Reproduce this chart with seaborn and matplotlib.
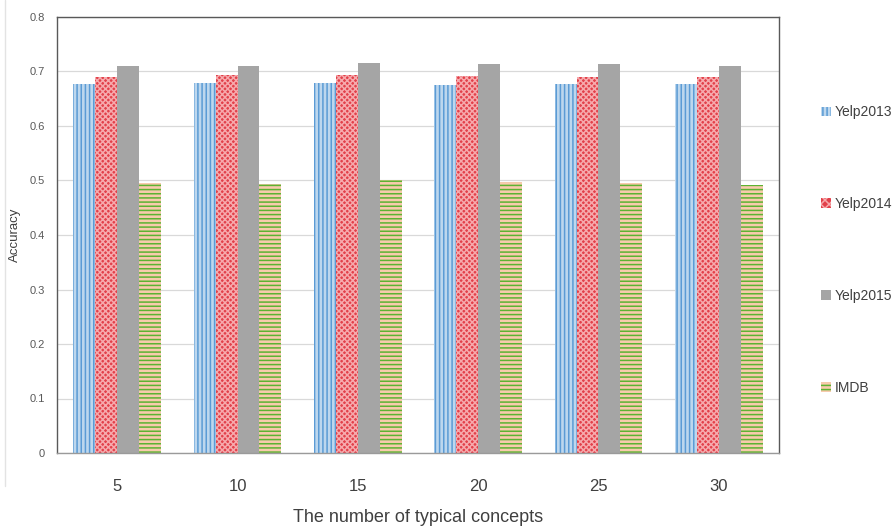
import matplotlib
matplotlib.use("Agg")
import matplotlib.pyplot as plt
from matplotlib.patches import Patch
from matplotlib.lines import Line2D
import seaborn as sns
import pandas as pd

# ---- data ----
concepts = ["5", "10", "15", "20", "25", "30"]
datasets = ["Yelp2013", "Yelp2014", "Yelp2015", "IMDB"]
yelp2013 = [0.677, 0.679, 0.679, 0.675, 0.677, 0.677]
yelp2014 = [0.689, 0.693, 0.693, 0.692, 0.690, 0.690]
yelp2015 = [0.710, 0.711, 0.716, 0.713, 0.714, 0.710]
imdb = [0.495, 0.494, 0.500, 0.497, 0.495, 0.492]
y_ticks = [0, 0.1, 0.2, 0.3, 0.4, 0.5, 0.6, 0.7, 0.8]
y_tick_labels = ["0", "0.1", "0.2", "0.3", "0.4", "0.5", "0.6", "0.7", "0.8"]

series = {"Yelp2013": yelp2013, "Yelp2014": yelp2014, "Yelp2015": yelp2015, "IMDB": imdb}
rows = []
for name in datasets:
    for c, v in zip(concepts, series[name]):
        rows.append({"concept": c, "dataset": name, "accuracy": v})
df = pd.DataFrame(rows)

# ---- styles ----
styles = {
    "Yelp2013": dict(face="#BDD7EE", hatchc="#5B9BD5", hatch="||||"),
    "Yelp2014": dict(face="#E2404A", hatchc="#F6A9AC", hatch="xxxxxx"),
    "Yelp2015": dict(face="#A5A5A5", hatchc="#A5A5A5", hatch=None),
    "IMDB": dict(face="#F8CBAD", hatchc="#5DB332", hatch="----"),
}

sns.set_theme(style="white")
plt.rcParams["font.family"] = ["Liberation Sans", "DejaVu Sans"]
plt.rcParams["hatch.linewidth"] = 1.1

fig = plt.figure(figsize=(8.94, 5.28), dpi=100)
ax = fig.add_axes([57 / 894, 75 / 528, 722 / 894, 436 / 528])

sns.barplot(data=df, x="concept", y="accuracy", hue="dataset", order=concepts,
            hue_order=datasets, width=0.73, ax=ax, legend=False, errorbar=None,
            saturation=1)

for cont, name in zip(ax.containers, datasets):
    st = styles[name]
    for p in cont.patches:
        p.set_facecolor(st["face"])
        p.set_edgecolor(st["hatchc"])
        p.set_linewidth(0)
        if st["hatch"]:
            p.set_hatch(st["hatch"])

ax.set_ylim(0, 0.8)
ax.set_yticks(y_ticks)
ax.set_yticklabels(y_tick_labels)
ax.yaxis.grid(True, color="#D9D9D9", linewidth=0.9)
ax.set_axisbelow(True)
ax.tick_params(axis="y", length=0, pad=9, labelsize=8, labelcolor="#595959")
ax.tick_params(axis="x", length=0, pad=19, labelsize=12, labelcolor="#404040")

for side in ["left", "top", "right"]:
    ax.spines[side].set_color("#595959")
    ax.spines[side].set_linewidth(1.0)
ax.spines["bottom"].set_color("#9A9A9A")
ax.spines["bottom"].set_linewidth(1.0)

ax.set_xlabel("The number of typical concepts", fontsize=13, color="#404040")
ax.xaxis.set_label_coords(0.5, (453 - 518) / 436)
ax.xaxis.label.set_va("center")
ax.set_ylabel("Accuracy", fontsize=9.5, color="#404040")
ax.yaxis.set_label_coords((15 - 57) / 722, 0.5)
ax.yaxis.label.set_va("center")

handles = []
for name in datasets:
    st = styles[name]
    handles.append(Patch(facecolor=st["face"], edgecolor=st["hatchc"], linewidth=0,
                         hatch=st["hatch"] if st["hatch"] != "xxxxxx" else "xxxx"))
fig.legend(handles, datasets, loc="center left", bbox_to_anchor=(821 / 894, 1 - 250 / 528),
           frameon=False, fontsize=10, handlelength=0.7, handleheight=0.7,
           handletextpad=0.3, labelspacing=5.6, borderpad=0, borderaxespad=0,
           labelcolor="#404040")

# faint page line on the left
fig.add_artist(Line2D([5 / 894, 5 / 894], [0.08, 1.0], color="#E3E3E3", linewidth=1.0))

fig.savefig("out.png", dpi=100)
